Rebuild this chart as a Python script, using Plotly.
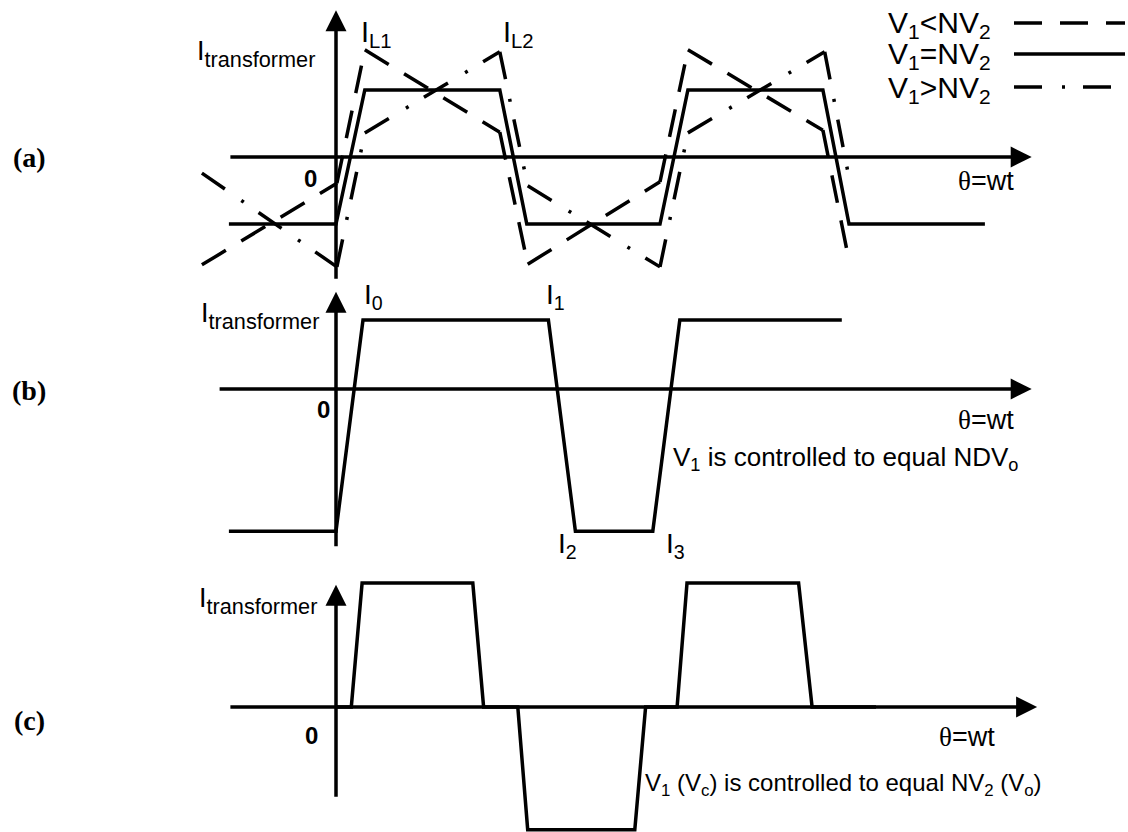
import plotly.graph_objects as go

# ---------------- drawing surface ----------------
W, H = 1128, 832
X0_PX, PX_PER_DEG = 336, 0.9          # theta = 0 lies on the current axes
# pixel row of I = 0 and pixels per unit of current, per panel
BASE = {"a": 157, "b": 389, "c": 707}
SCALE = {"a": 67, "b": 69, "c": 62}
YAX = {"a": "y", "b": "y2", "c": "y3"}

# ---------------- (a) three voltage ratios ----------------
theta_eq = [-119, 0, 32, 182, 212, 360, 391, 541, 570, 721]
i_eq = [-1, -1, 1, 1, -1, -1, 1, 1, -1, -1]
theta_lt = [-149, 1, 32, 182, 213, 360, 391, 541, 569]
i_lt = [-1.61, -0.39, 1.60, 0.37, -1.60, -0.37, 1.60, 0.40, -1.48]
theta_gt = [-149, 1, 32, 182, 213, 360, 391, 543, 570]
i_gt = [-0.24, -1.64, 0.36, 1.57, -0.43, -1.64, 0.36, 1.57, -0.31]

# ---------------- (b) V1 controlled to NDVo ----------------
theta_b = [-119, 0, 30, 236, 266, 352, 382, 562]
i_b = [-2.06, -2.06, 1, 1, -2.06, -2.06, 1, 1]

# ---------------- (c) V1 (Vc) controlled to NV2 (Vo) ----------------
theta_c = [0, 17, 29, 152, 164, 202, 213, 332, 344, 379, 390, 514, 529, 600]
i_c = [0, 0, 2, 2, 0, 0, -1.98, -1.98, 0, 0, 2, 2, 0, 0]

# axis extents (theta span of the wt axis, current span of the I axis)
AX_THETA = {"a": (-119, 773), "b": (-131, 773), "c": (-119, 779)}
AX_I = {"a": (-1.84, 2.19), "b": (-2.30, 1.41), "c": (-1.47, 1.97)}

LEGEND = ["V<sub>1</sub>&lt;NV<sub>2</sub>",
          "V<sub>1</sub>=NV<sub>2</sub>",
          "V<sub>1</sub>&gt;NV<sub>2</sub>"]

DASH = "28px,18px"
DASHDOT = "28px,20px,3px,18px"
LW = 3.5
SANS = "Liberation Sans"
SERIF = "Liberation Serif"

fig = go.Figure()


def polyline(theta, cur, panel, dash="solid", split=False):
    """Draw a waveform; dashed ones restart their pattern at every corner."""
    if not split:
        fig.add_trace(go.Scatter(x=theta, y=cur, yaxis=YAX[panel], mode="lines",
                                 line=dict(color="black", width=LW, dash=dash),
                                 showlegend=False, hoverinfo="skip"))
        return
    for k in range(len(theta) - 1):
        fig.add_trace(go.Scatter(x=theta[k:k + 2], y=cur[k:k + 2], yaxis=YAX[panel],
                                 mode="lines",
                                 line=dict(color="black", width=LW, dash=dash),
                                 showlegend=False, hoverinfo="skip"))


polyline(theta_lt, i_lt, "a", DASH, split=True)
polyline(theta_gt, i_gt, "a", DASHDOT, split=True)
polyline(theta_eq, i_eq, "a")
polyline(theta_b, i_b, "b")
polyline(theta_c, i_c, "c")

annotations = []


def arrow(panel, x, y, ax, ay):
    yr = YAX[panel]
    annotations.append(dict(x=x, y=y, ax=ax, ay=ay, xref="x", yref=yr,
                            axref="x", ayref=yr, text="", showarrow=True,
                            arrowhead=2, arrowsize=1.2, arrowwidth=LW,
                            arrowcolor="black", standoff=0, startstandoff=0))


for p in ("a", "b", "c"):
    lo, hi = AX_I[p]
    arrow(p, 0, hi, 0, lo)
    t0, t1 = AX_THETA[p]
    arrow(p, t1, 0, t0, 0)


def label(text, px, py, size=26, anchor="left", family=SANS, color="black"):
    annotations.append(dict(x=px / W, y=1 - py / H, xref="paper", yref="paper",
                            text=text, showarrow=False, xanchor=anchor,
                            yanchor="middle",
                            font=dict(family=family, size=size, color=color)))


I_TR = '<span style="font-size:27px">I</span><sub>transformer</sub>'
THETA = "<span style=\"font-family:'Liberation Serif'\">θ</span>=wt"

# panel (a)
label(I_TR, 195, 54, size=31)
label("I<sub>L1</sub>", 359, 34, size=29)
label("I<sub>L2</sub>", 501, 34, size=29)
label("<b>0</b>", 310, 178, size=24, anchor="center")
label(THETA, 956, 181, size=27)
# panel (b)
label(I_TR, 199, 316, size=31)
label("I<sub>0</sub>", 362, 296, size=28)
label("I<sub>1</sub>", 544, 296, size=28)
label("I<sub>2</sub>", 556, 545, size=28)
label("I<sub>3</sub>", 664, 545, size=28)
label("<b>0</b>", 323, 409, size=24, anchor="center")
label(THETA, 956, 420, size=27)
label("V<sub>1</sub> is controlled to equal NDV<sub>o</sub>", 671, 458, size=26)
# panel (c)
label(I_TR, 197, 601, size=31)
label("<b>0</b>", 311, 735, size=24, anchor="center")
label(THETA, 937, 737, size=27)
label("V<sub>1</sub> (V<sub>c</sub>) is controlled to equal NV<sub>2</sub> (V<sub>o</sub>)",
      643, 784, size=24)
# panel tags
for tag, py in (("(a)", 157), ("(b)", 390), ("(c)", 720)):
    label("<b>" + tag + "</b>", 29, py, size=28, anchor="center", family=SERIF)

# legend: text on the left, line sample on the right
shapes = []
for text, dash, py in zip(LEGEND, [DASH, "solid", DASHDOT], [23, 54, 87]):
    label(text, 993, py + 2, size=30, anchor="right")
    shapes.append(dict(type="line", xref="paper", yref="paper",
                       x0=1014 / W, x1=1125 / W, y0=1 - py / H, y1=1 - py / H,
                       line=dict(color="black", width=LW, dash=dash)))

layout_axes = {}
for p, name in (("a", "yaxis"), ("b", "yaxis2"), ("c", "yaxis3")):
    ax = dict(domain=[0, 1], range=[(BASE[p] - H) / SCALE[p], BASE[p] / SCALE[p]],
              visible=False, fixedrange=True)
    if p != "a":
        ax["overlaying"] = "y"
    layout_axes[name] = ax

fig.update_layout(
    width=W, height=H,
    margin=dict(l=0, r=0, t=0, b=0),
    paper_bgcolor="white", plot_bgcolor="white",
    xaxis=dict(domain=[0, 1], range=[-X0_PX / PX_PER_DEG, (W - X0_PX) / PX_PER_DEG],
               visible=False, fixedrange=True),
    annotations=annotations,
    shapes=shapes,
    showlegend=False,
    **layout_axes,
)

fig.write_html("out.html", config={"displayModeBar": False})
